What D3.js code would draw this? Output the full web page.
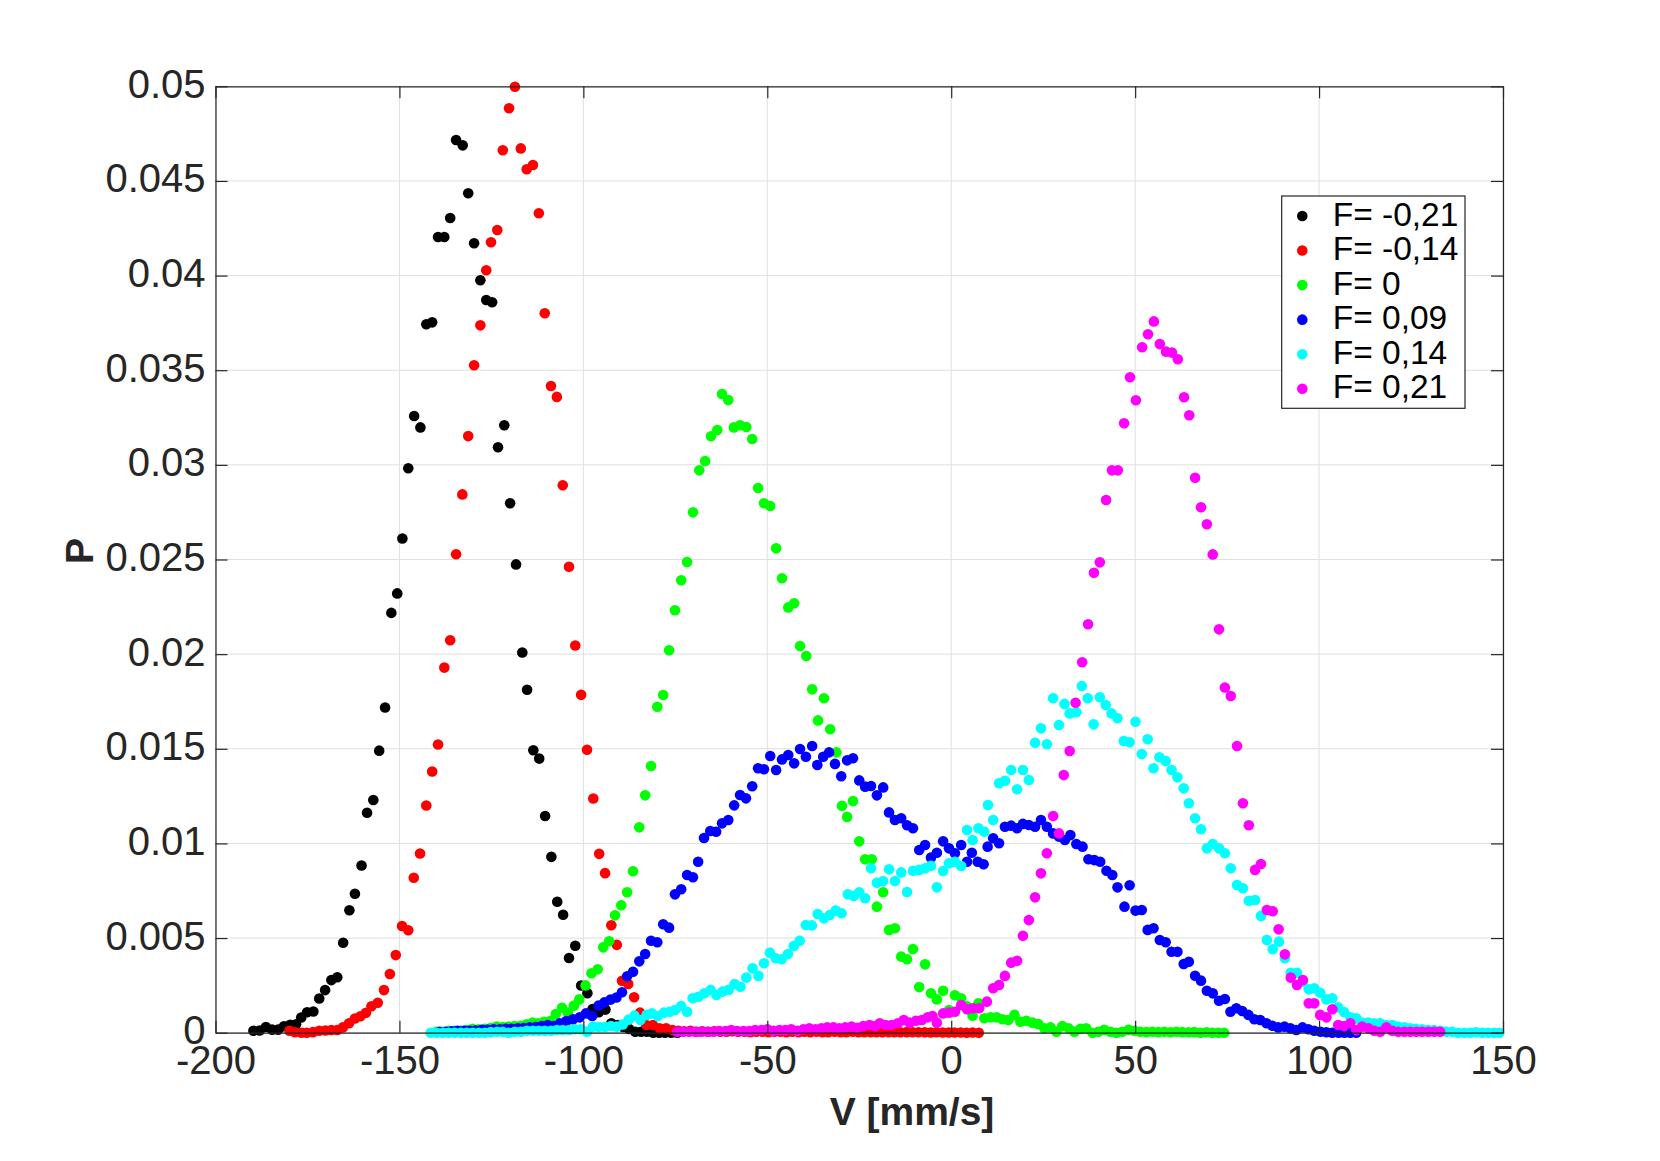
<!DOCTYPE html>
<html>
<head>
<meta charset="utf-8">
<script src="https://cdn.jsdelivr.net/npm/d3@7"></script>
<style>
  html, body { margin: 0; padding: 0; background: #ffffff; }
  svg { display: block; }
  text { font-family: "Liberation Sans", Arial, Helvetica, sans-serif; }
</style>
</head>
<body>
<svg id="chart" width="1660" height="1161"></svg>
<script>
// ---------------- DATA (V [mm/s], P) ----------------
const xTicks = [-200, -150, -100, -50, 0, 50, 100, 150];
const xTickLabels = ["-200", "-150", "-100", "-50", "0", "50", "100", "150"];
const yTicks = [0, 0.005, 0.01, 0.015, 0.02, 0.025, 0.03, 0.035, 0.04, 0.045, 0.05];
const yTickLabels = ["0", "0.005", "0.01", "0.015", "0.02", "0.025", "0.03", "0.035", "0.04", "0.045", "0.05"];

const seriesNames = ["F= -0,21", "F= -0,14", "F= 0", "F= 0,09", "F= 0,14", "F= 0,21"];
const seriesColors = ["#000000", "#ff0000", "#00ff00", "#0000ff", "#00ffff", "#ff00ff"];

const dataFm021 = [[-189.7,0.0001],[-188.0,0.00012],[-186.3,0.0003],[-184.6,0.00016],[-183.0,0.00016],[-181.4,0.00034],[-179.7,0.00042],[-178.1,0.00045],[-176.7,0.0008],[-175.1,0.00108],[-173.4,0.00112],[-171.8,0.00181],[-170.2,0.00225],[-168.5,0.00278],[-166.9,0.00293],[-165.3,0.00475],[-163.6,0.00647],[-162.1,0.00734],[-160.3,0.00883],[-158.8,0.01162],[-157.1,0.01229],[-155.5,0.0149],[-153.9,0.01718],[-152.2,0.02218],[-150.6,0.02321],[-149.2,0.02611],[-147.6,0.02982],[-146.0,0.03258],[-144.3,0.03198],[-142.7,0.03743],[-141.1,0.03753],[-139.5,0.04204],[-137.8,0.04204],[-136.2,0.04304],[-134.6,0.04716],[-132.8,0.04688],[-131.3,0.04435],[-129.7,0.04171],[-128.0,0.03975],[-126.4,0.03871],[-124.8,0.03859],[-123.2,0.03093],[-121.5,0.03209],[-119.9,0.02797],[-118.3,0.02474],[-116.6,0.02009],[-115.3,0.01812],[-113.6,0.01492],[-112.0,0.01448],[-110.4,0.01145],[-108.7,0.00929],[-107.1,0.00692],[-105.5,0.00623],[-103.9,0.00395],[-102.2,0.00459],[-100.6,0.00249],[-98.9,0.00209],[-97.5,0.00125],[-95.8,0.00108],[-94.0,0.00122],[-92.4,0.0005],[-90.8,0.0004],[-89.2,0.0003],[-87.6,0.0002],[-85.9,0.00005],[-84.3,0.00005],[-82.7,0.00005],[-81.0,0],[-79.4,0],[-77.8,0],[-76.1,0],[-74.5,0]];

const dataFm014 = [[-179.9,0.0001],[-178.4,0.00002],[-176.6,0],[-175.2,0],[-173.5,0.00003],[-171.8,0.0001],[-170.1,0.00012],[-168.5,0.00014],[-166.9,0.00014],[-165.4,0.00028],[-163.7,0.0005],[-162.1,0.00075],[-160.6,0.00087],[-159.1,0.00105],[-157.6,0.0014],[-155.9,0.00158],[-154.2,0.00225],[-152.6,0.0031],[-151.0,0.0041],[-149.3,0.00564],[-147.6,0.00541],[-146.1,0.00819],[-144.4,0.00947],[-142.7,0.012],[-141.1,0.0138],[-139.5,0.01523],[-137.8,0.01929],[-136.2,0.02073],[-134.6,0.02528],[-132.9,0.02844],[-131.3,0.03152],[-129.7,0.03526],[-128.0,0.03737],[-126.4,0.04028],[-125.1,0.04176],[-123.4,0.04241],[-121.9,0.04662],[-120.2,0.04884],[-118.6,0.04998],[-117.0,0.04672],[-115.4,0.04562],[-113.7,0.04584],[-112.1,0.04329],[-110.5,0.03801],[-108.8,0.03417],[-107.2,0.03359],[-105.6,0.02892],[-103.9,0.02462],[-102.2,0.02046],[-100.6,0.01785],[-99.0,0.01495],[-97.3,0.01237],[-95.7,0.00945],[-94.1,0.00843],[-92.4,0.00568],[-90.9,0.00464],[-89.5,0.00274],[-87.8,0.00257],[-86.2,0.00187],[-84.6,0.00106],[-82.9,0.00041],[-81.1,0.00041],[-79.3,0.00023],[-77.5,0.00023],[-75.8,0.00014],[-74.2,0.0001],[-72.6,0.00008],[-70.9,0.0001],[-69.3,0.00005],[-67.7,0.00008],[-66.0,0.00005],[-64.4,0.00008],[-62.8,0.00005],[-61.1,0.00005],[-59.5,0.00008],[-57.9,0.00005],[-56.2,0.00005],[-54.6,0.00003],[-53.0,0.00005],[-51.3,0.00005],[-49.7,0.00003],[-48.1,0.00005],[-46.4,0.00005],[-44.8,0.00003],[-43.2,0.00005],[-41.5,0.00003],[-39.9,0.00005],[-38.3,0.00003],[-36.6,0.00005],[-35.0,0.00003],[-33.4,0.00003],[-31.7,0.00005],[-30.1,0.00003],[-28.5,0.00003],[-26.8,0.00005],[-25.2,0.00003],[-23.6,0.00003],[-21.9,0.00002],[-20.3,0.00003],[-18.7,0.00002],[-17.0,0.00003],[-15.4,0.00002],[-13.8,0.00002],[-12.1,0.00003],[-10.5,0.00002],[-8.9,0.00002],[-7.2,0.00002],[-5.6,0.00001],[-4.0,0.00002],[-2.3,0.00001],[-0.7,0.00001],[0.9,0.00001],[2.6,0.00001],[4.2,0],[5.8,0.00001],[7.5,0]];

const dataF0 = [[-139.9,0.00005],[-138.3,0.00005],[-136.6,0.0001],[-135.0,0.0001],[-133.4,0.0001],[-131.7,0.00014],[-130.1,0.0002],[-128.5,0.00018],[-126.8,0.0002],[-125.2,0.00025],[-123.6,0.00032],[-121.9,0.0003],[-120.3,0.00032],[-118.7,0.00035],[-117.0,0.00037],[-115.4,0.00044],[-113.8,0.00053],[-112.3,0.0005],[-110.7,0.00058],[-109.0,0.00062],[-107.5,0.00099],[-105.8,0.00132],[-104.2,0.00106],[-102.6,0.00143],[-101.1,0.00176],[-99.4,0.0025],[-97.8,0.00314],[-96.1,0.00335],[-94.6,0.00451],[-93.0,0.00483],[-91.4,0.0062],[-89.7,0.00673],[-88.1,0.00742],[-86.5,0.00853],[-84.8,0.01085],[-83.2,0.01254],[-81.6,0.01409],[-79.9,0.01722],[-78.3,0.01784],[-76.7,0.0202],[-75.1,0.02232],[-73.4,0.0239],[-71.8,0.02487],[-70.2,0.02749],[-68.5,0.02971],[-66.9,0.0302],[-65.3,0.03151],[-63.6,0.03184],[-62.3,0.03374],[-60.6,0.03343],[-59.1,0.03198],[-57.4,0.03209],[-55.7,0.032],[-54.1,0.03137],[-52.5,0.02878],[-50.9,0.02797],[-49.2,0.02783],[-47.6,0.02559],[-46.0,0.02401],[-44.3,0.02247],[-42.7,0.02269],[-41.1,0.02043],[-39.4,0.0199],[-37.8,0.01814],[-36.2,0.0165],[-34.6,0.01767],[-32.9,0.01603],[-31.2,0.01481],[-29.7,0.01199],[-28.3,0.0114],[-26.7,0.01224],[-25.0,0.01011],[-23.4,0.00916],[-21.6,0.00916],[-20.2,0.00666],[-18.5,0.00742],[-16.9,0.00543],[-15.3,0.00552],[-13.6,0.00402],[-12.0,0.00388],[-10.4,0.00442],[-8.7,0.00241],[-7.1,0.00361],[-5.5,0.00208],[-3.9,0.00176],[-2.2,0.00222],[-0.6,0.0012],[1.0,0.00198],[2.7,0.00182],[4.3,0.0014],[5.8,0.0009],[7.4,0.00155],[9.0,0.00076],[10.7,0.00081],[12.3,0.00081],[13.9,0.00071],[15.5,0.00067],[17.2,0.00094],[18.8,0.00058],[20.4,0.00063],[22.1,0.00053],[23.7,0.00046],[25.3,0.00023],[27.0,0.00028],[28.6,0.00005],[30.2,0.00035],[31.9,0.00023],[33.5,0.00005],[35.1,0.0002],[36.7,0.00023],[38.4,0],[40.0,0.00005],[41.6,0.00015],[43.3,0.00005],[44.9,0],[46.5,0.00005],[48.2,0.00015],[49.8,0.0001],[51.4,0.00005],[53.1,0.00003],[54.7,0.00005],[56.3,0.00003],[57.9,0.00005],[59.6,0.00002],[61.2,0.00005],[62.8,0.00003],[64.5,0.00002],[66.1,0.00003],[67.7,0],[69.4,0.00002],[71.0,0],[72.6,0],[74.2,0]];

const dataF009 = [[-139.1,0.00005],[-137.4,0.00005],[-135.8,0.00008],[-134.2,0.0001],[-132.5,0.0001],[-130.9,0.0001],[-129.3,0.00012],[-127.6,0.00015],[-126.0,0.00015],[-124.4,0.00018],[-122.7,0.00018],[-121.1,0.0002],[-119.5,0.0002],[-117.8,0.00023],[-116.2,0.00025],[-114.6,0.00028],[-112.9,0.0003],[-111.3,0.00035],[-109.7,0.0004],[-108.0,0.00035],[-106.4,0.0005],[-104.6,0.00062],[-102.8,0.00071],[-101.0,0.00081],[-99.3,0.00102],[-97.6,0.00088],[-95.9,0.00143],[-94.3,0.0016],[-92.6,0.00175],[-91.0,0.00186],[-89.5,0.00214],[-88.1,0.00298],[-86.5,0.00322],[-84.8,0.00377],[-83.2,0.00416],[-81.6,0.00486],[-79.9,0.00478],[-78.3,0.00573],[-76.7,0.00555],[-75.1,0.00731],[-73.4,0.00758],[-71.8,0.00833],[-70.2,0.00821],[-68.8,0.00903],[-67.2,0.01029],[-65.5,0.01066],[-63.9,0.01062],[-62.3,0.01106],[-60.6,0.01124],[-59.0,0.01201],[-57.4,0.01256],[-55.8,0.01238],[-54.1,0.01302],[-52.5,0.01397],[-50.9,0.01392],[-49.2,0.01462],[-47.6,0.01388],[-46.0,0.01444],[-44.3,0.01467],[-42.7,0.01423],[-41.1,0.01499],[-39.5,0.01458],[-37.8,0.01515],[-36.4,0.01414],[-34.8,0.01458],[-33.2,0.01481],[-31.6,0.0142],[-29.9,0.01355],[-28.3,0.01439],[-26.7,0.0145],[-25.0,0.01333],[-23.4,0.013],[-21.8,0.01303],[-20.2,0.01254],[-18.5,0.01296],[-16.9,0.01164],[-15.3,0.01124],[-13.6,0.01133],[-12.0,0.01096],[-10.4,0.0108],[-8.7,0.00965],[-7.1,0.00992],[-5.5,0.00925],[-3.9,0.00951],[-2.2,0.01011],[-0.6,0.00974],[1.0,0.00948],[2.7,0.00992],[4.3,0.00903],[5.6,0.00951],[7.2,0.00903],[8.8,0.0089],[9.9,0.00983],[11.4,0.01027],[13.0,0.01001],[14.6,0.01088],[16.3,0.01094],[17.9,0.0108],[19.5,0.01103],[21.1,0.01097],[22.8,0.01088],[24.4,0.01124],[26.0,0.01088],[27.7,0.01053],[29.3,0.01036],[30.9,0.01018],[32.4,0.01044],[34.0,0.00997],[35.7,0.00983],[37.3,0.00916],[38.9,0.00912],[40.5,0.00903],[42.2,0.00856],[43.8,0.00833],[45.2,0.00768],[47.1,0.00666],[48.5,0.00779],[50.1,0.00645],[51.8,0.00648],[53.4,0.00543],[55.0,0.00552],[56.7,0.0049],[58.3,0.00478],[59.9,0.00428],[61.5,0.00428],[63.2,0.00363],[64.6,0.00375],[66.3,0.00301],[67.9,0.00275],[69.5,0.00222],[71.1,0.00208],[72.8,0.00169],[74.4,0.00178],[75.9,0.00111],[77.5,0.00129],[79.1,0.00115],[80.8,0.00094],[82.4,0.00071],[84.0,0.00067],[85.7,0.0005],[87.3,0.00037],[88.9,0.00028],[90.6,0.00032],[92.2,0.00023],[93.8,0.00014],[95.5,0.00028],[97.1,0.00018],[98.7,0.0001],[100.4,0.00005],[102.0,0.00002],[103.6,0],[105.3,0],[106.9,0],[108.5,0],[110.1,0]];

const dataF014 = [[-141.5,0],[-139.9,0],[-138.2,0],[-136.6,0],[-135.0,0],[-133.3,0],[-131.7,0],[-130.1,0],[-128.4,0],[-126.8,0],[-125.2,0.00003],[-123.5,0.00005],[-121.9,0.00005],[-120.3,0],[-118.6,0.00005],[-117.0,0.00005],[-115.4,0.0001],[-113.7,0.0001],[-112.1,0.0001],[-110.5,0.0001],[-108.8,0.0001],[-107.2,0.00014],[-105.6,0.00014],[-103.9,0.00014],[-102.3,0.00018],[-100.7,0.00018],[-99.0,0.00005],[-97.4,0.00032],[-95.8,0.0003],[-94.1,0.0003],[-92.5,0.00035],[-90.9,0.00032],[-89.3,0.00043],[-87.7,0.00069],[-86.1,0.0009],[-84.5,0.00067],[-82.8,0.00094],[-81.4,0.00102],[-79.8,0.00088],[-78.1,0.00106],[-76.5,0.00111],[-75.1,0.0012],[-73.4,0.00141],[-71.8,0.00111],[-70.3,0.00182],[-68.7,0.0019],[-67.1,0.00208],[-65.4,0.00226],[-63.8,0.00199],[-62.2,0.00217],[-60.5,0.00226],[-58.9,0.00257],[-57.3,0.00243],[-55.7,0.00291],[-54.0,0.0034],[-52.4,0.003],[-50.9,0.00367],[-49.3,0.00423],[-47.7,0.00393],[-46.1,0.00388],[-44.4,0.00416],[-42.8,0.00458],[-41.2,0.00486],[-39.5,0.00569],[-37.9,0.00567],[-36.3,0.00627],[-34.6,0.00604],[-33.0,0.00622],[-31.4,0.00645],[-29.8,0.00631],[-28.1,0.00731],[-26.5,0.00722],[-25.0,0.00742],[-23.4,0.0071],[-21.8,0.00869],[-20.2,0.00792],[-18.5,0.00801],[-16.9,0.00863],[-15.3,0.00801],[-13.6,0.00847],[-12.0,0.00743],[-10.4,0.00856],[-8.7,0.0086],[-7.1,0.00869],[-5.5,0.00882],[-3.9,0.00768],[-2.2,0.00854],[-0.6,0.00895],[1.0,0.00903],[2.7,0.00881],[4.3,0.01071],[5.8,0.01018],[7.4,0.0108],[9.0,0.01062],[10.0,0.01203],[11.4,0.01124],[13.0,0.01318],[14.6,0.01331],[16.3,0.01388],[17.9,0.01286],[19.5,0.01388],[21.1,0.01335],[22.8,0.01532],[24.4,0.01608],[26.0,0.01524],[27.7,0.01767],[29.3,0.01626],[30.8,0.01737],[32.2,0.01687],[34.0,0.01693],[35.5,0.01832],[37.1,0.01767],[38.7,0.01629],[40.4,0.01772],[42.0,0.01731],[43.6,0.01687],[45.2,0.01661],[46.9,0.01541],[48.5,0.01534],[50.1,0.01643],[51.8,0.01472],[53.4,0.0155],[55.0,0.01397],[56.6,0.01455],[58.3,0.01435],[59.9,0.01388],[61.5,0.01349],[63.2,0.01291],[64.6,0.01212],[66.3,0.01133],[67.9,0.01075],[69.5,0.00974],[71.1,0.00997],[72.8,0.00974],[74.4,0.00948],[76.0,0.00869],[77.7,0.0078],[79.3,0.00763],[80.9,0.00697],[82.6,0.00701],[84.2,0.00617],[85.8,0.0049],[87.4,0.00441],[89.1,0.00481],[90.7,0.00393],[92.3,0.00317],[94.0,0.00317],[95.6,0.0027],[97.2,0.00229],[98.7,0.00235],[100.3,0.00211],[102.0,0.00176],[103.6,0.00182],[105.2,0.00134],[106.8,0.00109],[108.5,0.00081],[110.1,0.00076],[111.7,0.00053],[113.4,0.00053],[115.0,0.0005],[116.6,0.0005],[118.3,0.00041],[119.9,0.00041],[121.5,0.00032],[123.2,0.00028],[124.8,0.00023],[126.4,0.0002],[128.0,0.00018],[129.7,0.00014],[131.3,0.00014],[132.9,0.0001],[134.6,0.00005],[136.2,0.00005],[137.8,0],[139.5,0],[141.1,0],[142.7,0.00002],[144.4,0],[146.0,0],[147.6,0],[149.0,0]];

const dataF021 = [[-74.5,0.00005],[-72.9,0.00005],[-71.2,0.00005],[-69.6,0.00005],[-68.0,0.00005],[-66.3,0.00005],[-64.7,0.00005],[-63.1,0.00009],[-61.4,0.00009],[-59.8,0.00014],[-58.2,0.00009],[-56.5,0.00009],[-54.9,0.00009],[-53.3,0.00014],[-51.6,0.00014],[-50.0,0.00018],[-48.4,0.0001],[-46.7,0.00014],[-45.1,0.00014],[-43.5,0.00018],[-41.8,0.0001],[-40.2,0.00018],[-38.6,0.00023],[-36.9,0.00018],[-35.3,0.00023],[-33.7,0.00028],[-32.0,0.00028],[-30.4,0.00023],[-28.8,0.00028],[-27.1,0.00032],[-25.5,0.00026],[-23.9,0.00035],[-22.2,0.00041],[-20.6,0.00035],[-19.4,0.0005],[-17.8,0.00041],[-16.2,0.00041],[-14.5,0.0005],[-12.9,0.00067],[-11.3,0.00053],[-9.6,0.00063],[-8.0,0.00067],[-6.4,0.00081],[-5.1,0.00088],[-3.9,0.00053],[-2.2,0.00102],[-0.6,0.00106],[1.0,0.00111],[2.7,0.00146],[4.3,0.00124],[5.9,0.00129],[7.6,0.00129],[9.7,0.00164],[11.4,0.00235],[13.0,0.00252],[14.6,0.003],[16.3,0.0037],[17.9,0.0038],[19.5,0.00512],[21.1,0.00595],[22.8,0.00715],[24.4,0.00842],[26.0,0.00948],[27.7,0.01145],[29.3,0.01053],[30.6,0.01361],[32.2,0.01488],[33.8,0.01743],[35.6,0.01957],[37.2,0.02158],[38.8,0.0243],[40.4,0.02485],[42.1,0.02814],[43.7,0.02971],[45.3,0.02971],[47.0,0.0322],[48.6,0.03463],[50.2,0.03341],[51.9,0.03621],[53.5,0.0369],[55.1,0.03758],[56.7,0.03638],[58.4,0.03598],[60.0,0.03593],[61.6,0.03558],[63.3,0.03357],[64.7,0.03262],[66.3,0.02932],[67.9,0.02776],[69.5,0.02686],[71.1,0.02527],[72.8,0.02131],[74.4,0.01824],[76.0,0.01779],[77.7,0.01515],[79.3,0.01212],[80.9,0.01096],[82.6,0.0086],[84.2,0.00891],[85.8,0.00648],[87.4,0.00642],[89.0,0.00546],[90.7,0.00414],[92.3,0.00291],[94.0,0.00252],[95.6,0.00278],[97.2,0.00155],[98.7,0.00155],[100.3,0.00094],[102.0,0.00081],[103.6,0.00124],[105.2,0.00041],[106.8,0.00035],[108.5,0.0005],[110.1,0.00014],[111.7,0.00032],[113.4,0.00023],[115.0,0.0001],[116.6,0.00005],[118.3,0.00028],[119.9,0.0001],[121.5,0.00005],[123.2,0.00005],[124.8,0.00005],[126.4,0.00005],[128.0,0.00005],[129.7,0.00005],[131.3,0.00005],[132.9,0.00005]];

const allSeries = [dataFm021, dataFm014, dataF0, dataF009, dataF014, dataF021];

// ---------------- LAYOUT ----------------
const W = 1660, H = 1161;
const plot = { left: 215.5, right: 1503, top: 86.3, bottom: 1032.7 };
const axisColor = "#262626";
const gridColor = "#dfdfdf";
const tickLen = 12;
const markerR = 5.3;
const tickFont = 40;

const svg = d3.select("#chart");
svg.append("rect").attr("width", W).attr("height", H).attr("fill", "#ffffff");

const x = d3.scaleLinear().domain([-200, 150]).range([plot.left, plot.right]);
const y = d3.scaleLinear().domain([0, 0.05]).range([plot.bottom, plot.top]);

// grid
const grid = svg.append("g");
grid.selectAll("line.vg").data(xTicks).enter().append("line")
  .attr("x1", d => x(d)).attr("x2", d => x(d))
  .attr("y1", plot.top).attr("y2", plot.bottom)
  .attr("stroke", gridColor).attr("stroke-width", 1);
grid.selectAll("line.hg").data(yTicks).enter().append("line")
  .attr("y1", d => y(d)).attr("y2", d => y(d))
  .attr("x1", plot.left).attr("x2", plot.right)
  .attr("stroke", gridColor).attr("stroke-width", 1);

// data points
const clipId = "plotclip";
svg.append("clipPath").attr("id", clipId).append("rect")
  .attr("x", plot.left - markerR).attr("y", plot.top - markerR)
  .attr("width", plot.right - plot.left + 2 * markerR)
  .attr("height", plot.bottom - plot.top + 2 * markerR);
const pts = svg.append("g").attr("clip-path", `url(#${clipId})`);
allSeries.forEach((s, i) => {
  pts.append("g").selectAll("circle").data(s).enter().append("circle")
    .attr("cx", d => x(d[0])).attr("cy", d => y(d[1]))
    .attr("r", markerR).attr("fill", seriesColors[i]);
});

// axes (box with inward ticks on all four sides)
const bottomAxis = d3.axisBottom(x).tickValues(xTicks).tickFormat((d, i) => xTickLabels[i])
  .tickSizeInner(-tickLen).tickSizeOuter(0).tickPadding(0);
const gB = svg.append("g").attr("transform", `translate(0,${plot.bottom})`).call(bottomAxis);
const topAxis = d3.axisTop(x).tickValues(xTicks).tickFormat("").tickSizeInner(-tickLen).tickSizeOuter(0);
const gT = svg.append("g").attr("transform", `translate(0,${plot.top})`).call(topAxis);
const leftAxis = d3.axisLeft(y).tickValues(yTicks).tickFormat((d, i) => yTickLabels[i])
  .tickSizeInner(-tickLen).tickSizeOuter(0).tickPadding(0);
const gL = svg.append("g").attr("transform", `translate(${plot.left},0)`).call(leftAxis);
const rightAxis = d3.axisRight(y).tickValues(yTicks).tickFormat("").tickSizeInner(-tickLen).tickSizeOuter(0);
const gR = svg.append("g").attr("transform", `translate(${plot.right},0)`).call(rightAxis);

[gB, gT, gL, gR].forEach(g => {
  g.select(".domain").attr("stroke", axisColor).attr("stroke-width", 1.2);
  g.selectAll(".tick line").attr("stroke", axisColor).attr("stroke-width", 1.2);
});

gB.selectAll(".tick text")
  .attr("y", 0).attr("dy", null)
  .attr("transform", "translate(0,41.5)")
  .attr("fill", axisColor).attr("font-size", tickFont)
  .attr("font-family", "'Liberation Sans', Arial, Helvetica, sans-serif");
gL.selectAll(".tick text")
  .attr("x", -10).attr("dy", null).attr("y", 11)
  .attr("fill", axisColor).attr("font-size", tickFont)
  .attr("font-family", "'Liberation Sans', Arial, Helvetica, sans-serif");

// axis labels
svg.append("text").text("V [mm/s]")
  .attr("x", 912).attr("y", 1125)
  .attr("text-anchor", "middle").attr("font-weight", "bold")
  .attr("font-size", 39).attr("fill", axisColor);
svg.append("text").text("P")
  .attr("transform", "translate(93,551) rotate(-90)")
  .attr("text-anchor", "middle").attr("font-weight", "bold")
  .attr("font-size", 39).attr("fill", axisColor);

// legend
const legend = { x: 1281.7, y: 196, w: 183.3, h: 212.3, markerX: 1302.3, textX: 1332.7, firstRowY: 216, rowH: 34.55 };
const lg = svg.append("g");
lg.append("rect").attr("x", legend.x).attr("y", legend.y).attr("width", legend.w).attr("height", legend.h)
  .attr("fill", "#ffffff").attr("stroke", axisColor).attr("stroke-width", 1.2);
seriesNames.forEach((name, i) => {
  const cy = legend.firstRowY + i * legend.rowH;
  lg.append("circle").attr("cx", legend.markerX).attr("cy", cy).attr("r", markerR).attr("fill", seriesColors[i]);
  lg.append("text").text(name).attr("x", legend.textX).attr("y", cy + 9.5)
    .attr("font-size", 33.5).attr("fill", "#000000");
});
</script>
</body>
</html>
